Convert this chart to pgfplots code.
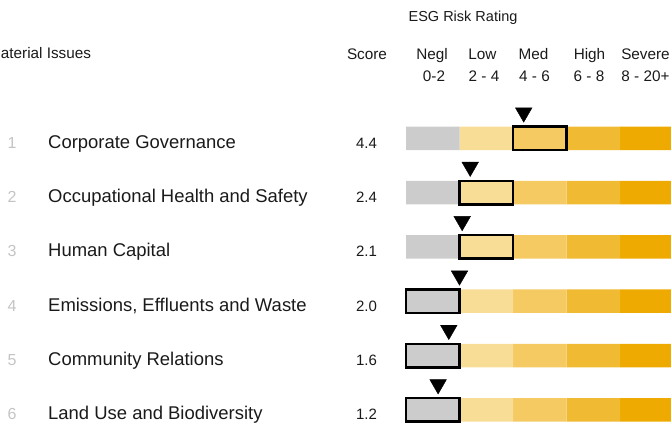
\documentclass[border=0pt]{standalone}
\usepackage{fontspec}
\setmainfont{Liberation Sans}
\usepackage{pgfplots}
\usepackage{pgfplotstable}
\pgfplotsset{compat=1.18}

\definecolor{cneg}{HTML}{CCCCCC}
\definecolor{clow}{HTML}{F8DD96}
\definecolor{cmed}{HTML}{F5CA63}
\definecolor{chigh}{HTML}{F0BA33}
\definecolor{csev}{HTML}{EEAA00}
\definecolor{cnum}{HTML}{C4C4C4}
\definecolor{ctxt}{HTML}{1A1A1A}

\newcommand\fs[1]{\fontsize{#1}{#1}\selectfont}

% rows: y = bar centre (px from top), tip = triangle centre, score, band = start of the outlined band
\pgfplotstableread{
row y      tip    score band neg low med high sev
1   138.3  112.6  4.4   4    2   2   2   2    2.5
2   192.6  166.9  2.4   2    2   2   2   2    2.5
3   246.9  221.2  2.1   2    2   2   2   2    2.5
4   301.2  275.6  2.0   0    2   2   2   2    2.5
5   355.6  330.0  1.6   0    2   2   2   2    2.5
6   409.9  384.4  1.2   0    2   2   2   2    2.5
}\rows

\pgfplotsset{layer/.style={scale only axis, width=671pt, height=425pt,
  ymin=0, ymax=425, y dir=reverse, hide axis, at={(0,0)}, anchor=south west}}

\begin{document}
\begin{tikzpicture}
% ---- coloured bands
\begin{axis}[layer, xmin=-15.1776, xmax=9.9065, xbar stacked, bar width=23.5]
\addplot[fill=cneg, draw=none] table[x=neg, y=y] {\rows};
\addplot[fill=clow, draw=none] table[x=low, y=y] {\rows};
\addplot[fill=cmed, draw=none] table[x=med, y=y] {\rows};
\addplot[fill=chigh, draw=none] table[x=high, y=y] {\rows};
\addplot[fill=csev, draw=none] table[x=sev, y=y] {\rows};
\end{axis}
% ---- outline of the band that holds the score
\begin{axis}[layer, xmin=-15.1776, xmax=9.9065, xbar stacked, bar width=23.5]
\addplot[fill=none, draw=none] table[x=band, y=y] {\rows};
\addplot[fill=none, draw=black, line width=2.4pt, line join=miter] table[x=neg, y=y] {\rows};
\end{axis}
% ---- score markers
\begin{axis}[layer, xmin=-15.1776, xmax=9.9065]
\addplot[only marks, mark=triangle*, mark size=9.6pt,
  mark options={rotate=180, fill=black, draw=none}] table[x=score, y=tip] {\rows};
\end{axis}
% ---- texts
\begin{axis}[layer, xmin=0, xmax=671, clip=false]
\node[anchor=base, text=ctxt, font=\fs{14.5}] at (axis cs:463,21.5) {ESG Risk Rating};
\node[anchor=base west, inner sep=0pt, text=ctxt, font=\fs{15.3}] at (axis cs:-12,58.5) {Material Issues};
\node[anchor=base, text=ctxt, font=\fs{15.3}] at (axis cs:367,59.3) {Score};
\node[anchor=base, text=ctxt, font=\fs{15.3}] at (axis cs:432,59.3) {Negl};
\node[anchor=base, text=ctxt, font=\fs{15.3}] at (axis cs:482.5,59.3) {Low};
\node[anchor=base, text=ctxt, font=\fs{15.3}] at (axis cs:533.5,59.3) {Med};
\node[anchor=base, text=ctxt, font=\fs{15.3}] at (axis cs:589.5,59.3) {High};
\node[anchor=base, text=ctxt, font=\fs{15.3}] at (axis cs:645.5,59.3) {Severe};
\node[anchor=base, text=ctxt, font=\fs{15.3}] at (axis cs:434,81.7) {0-2};
\node[anchor=base, text=ctxt, font=\fs{15.3}] at (axis cs:484,81.7) {2 - 4};
\node[anchor=base, text=ctxt, font=\fs{15.3}] at (axis cs:534.5,81.7) {4 - 6};
\node[anchor=base, text=ctxt, font=\fs{15.3}] at (axis cs:589,81.7) {6 - 8};
\node[anchor=base, text=ctxt, font=\fs{15.3}] at (axis cs:645.5,81.7) {8 - 20+};
% row numbers
\node[anchor=base, text=cnum, font=\fs{16}] at (axis cs:12,148.3) {1};
\node[anchor=base, text=cnum, font=\fs{16}] at (axis cs:12,202.6) {2};
\node[anchor=base, text=cnum, font=\fs{16}] at (axis cs:12,256.9) {3};
\node[anchor=base, text=cnum, font=\fs{16}] at (axis cs:12,311.2) {4};
\node[anchor=base, text=cnum, font=\fs{16}] at (axis cs:12,365.5) {5};
\node[anchor=base, text=cnum, font=\fs{16}] at (axis cs:12,419.8) {6};
% issue names
\node[anchor=base west, inner sep=0pt, text=ctxt, font=\fs{18.45}] at (axis cs:48,148.3) {Corporate Governance};
\node[anchor=base west, inner sep=0pt, text=ctxt, font=\fs{18.45}] at (axis cs:48,202.6) {Occupational Health and Safety};
\node[anchor=base west, inner sep=0pt, text=ctxt, font=\fs{18.45}] at (axis cs:48,256.9) {Human Capital};
\node[anchor=base west, inner sep=0pt, text=ctxt, font=\fs{18.45}] at (axis cs:48,311.2) {Emissions, Effluents and Waste};
\node[anchor=base west, inner sep=0pt, text=ctxt, font=\fs{18.45}] at (axis cs:48,365.5) {Community Relations};
\node[anchor=base west, inner sep=0pt, text=ctxt, font=\fs{18.45}] at (axis cs:48,419.8) {Land Use and Biodiversity};
% scores
\node[anchor=base, text=ctxt, font=\fs{15}] at (axis cs:366.5,148.3) {4.4};
\node[anchor=base, text=ctxt, font=\fs{15}] at (axis cs:366.5,202.6) {2.4};
\node[anchor=base, text=ctxt, font=\fs{15}] at (axis cs:366.5,256.9) {2.1};
\node[anchor=base, text=ctxt, font=\fs{15}] at (axis cs:366.5,311.2) {2.0};
\node[anchor=base, text=ctxt, font=\fs{15}] at (axis cs:366.5,365.5) {1.6};
\node[anchor=base, text=ctxt, font=\fs{15}] at (axis cs:366.5,419.8) {1.2};
\end{axis}
\pgfresetboundingbox
\useasboundingbox (0,0) rectangle (671pt,425pt);
\end{tikzpicture}
\end{document}
